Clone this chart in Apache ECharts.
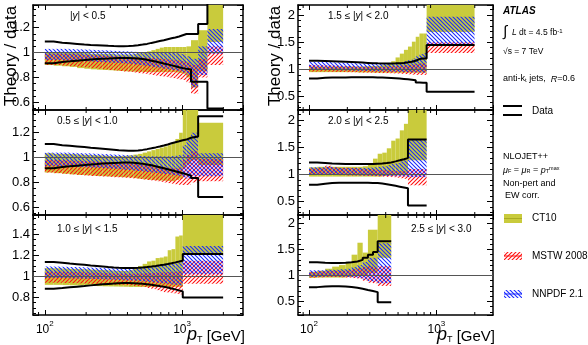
<!DOCTYPE html>
<html>
<head>
<meta charset="utf-8">
<title>Theory / data</title>
<script src="https://cdn.jsdelivr.net/npm/echarts@6/dist/echarts.min.js"></script>
<style>
  html, body { margin: 0; padding: 0; background: #fff; }
  #chartmain { width: 588px; height: 345px; }
</style>
</head>
<body>
<div id="chartmain"></div>
<script>
// pT bin edges [GeV] for each rapidity slice
var p1Edges = [100, 116, 134, 152, 172, 194, 216, 240, 264, 290, 318, 346, 376, 408, 442, 478, 516, 556, 598, 642, 688, 736, 786, 838, 894, 952, 1012, 1076, 1162, 1310, 1530, 1992]
var p2Edges = [100, 116, 134, 152, 172, 194, 216, 240, 264, 290, 318, 346, 376, 408, 442, 478, 516, 556, 598, 642, 688, 736, 786, 838, 894, 952, 1012, 1076, 1162, 1310, 1992]
var p3Edges = [100, 116, 134, 152, 172, 194, 216, 240, 264, 290, 318, 346, 376, 408, 442, 478, 516, 556, 598, 642, 688, 736, 786, 838, 894, 952, 1012, 1992]
var r1Edges = [100, 116, 134, 152, 172, 194, 216, 240, 264, 290, 318, 346, 376, 408, 442, 478, 516, 556, 598, 642, 688, 736, 786, 838, 1992]
var r2Edges = [100, 116, 134, 152, 172, 194, 216, 240, 264, 290, 318, 346, 376, 408, 442, 478, 516, 556, 598, 838]
var r3Edges = [100, 116, 134, 152, 172, 194, 216, 240, 264, 290, 318, 346, 442]

// |y| < 0.5
var p1DataHi = [1.09, 1.08, 1.075, 1.07, 1.065, 1.062, 1.06, 1.058, 1.055, 1.053, 1.052, 1.052, 1.053, 1.055, 1.06, 1.065, 1.07, 1.078, 1.085, 1.093, 1.1, 1.108, 1.115, 1.122, 1.13, 1.14, 1.15, 1.15, 1.15, 1.23, 1.5]
var p1DataLo = [0.915, 0.925, 0.93, 0.935, 0.94, 0.945, 0.948, 0.95, 0.952, 0.955, 0.956, 0.957, 0.957, 0.955, 0.952, 0.948, 0.942, 0.935, 0.928, 0.92, 0.912, 0.905, 0.897, 0.89, 0.882, 0.875, 0.87, 0.865, 0.765, 0.765, 0.55]
var p1Ct10Lo = [0.9, 0.895, 0.89, 0.885, 0.875, 0.87, 0.865, 0.862, 0.86, 0.858, 0.855, 0.852, 0.85, 0.848, 0.846, 0.845, 0.844, 0.843, 0.843, 0.843, 0.843, 0.843, 0.843, 0.843, 0.84, 0.835, 0.83, 0.8, 0.72, 0.85, 1.085]
var p1Ct10Hi = [1.0, 1.0, 1.0, 1.0, 1.0, 0.995, 0.99, 0.99, 0.99, 0.99, 0.985, 0.985, 0.985, 0.985, 0.99, 0.995, 1.0, 1.01, 1.02, 1.03, 1.04, 1.045, 1.045, 1.045, 1.045, 1.045, 1.045, 1.05, 1.1, 1.18, 1.6]
var p1MstwLo = [0.9, 0.9, 0.895, 0.89, 0.885, 0.88, 0.875, 0.87, 0.865, 0.86, 0.856, 0.852, 0.848, 0.845, 0.84, 0.835, 0.83, 0.825, 0.82, 0.815, 0.81, 0.805, 0.8, 0.795, 0.79, 0.785, 0.78, 0.76, 0.67, 0.8, 0.9]
var p1MstwHi = [0.99, 0.99, 0.99, 0.988, 0.985, 0.982, 0.98, 0.978, 0.975, 0.972, 0.97, 0.968, 0.966, 0.964, 0.962, 0.96, 0.958, 0.956, 0.954, 0.952, 0.95, 0.948, 0.945, 0.942, 0.94, 0.935, 0.93, 0.92, 0.9, 0.95, 1.05]
var p1NnpdfLo = [0.94, 0.94, 0.938, 0.935, 0.932, 0.93, 0.928, 0.925, 0.922, 0.92, 0.918, 0.915, 0.912, 0.91, 0.905, 0.9, 0.895, 0.89, 0.885, 0.88, 0.875, 0.87, 0.865, 0.86, 0.855, 0.85, 0.84, 0.82, 0.72, 0.82, 0.99]
var p1NnpdfHi = [1.03, 1.03, 1.03, 1.028, 1.026, 1.024, 1.022, 1.02, 1.018, 1.016, 1.014, 1.012, 1.01, 1.008, 1.006, 1.004, 1.002, 1.0, 1.0, 1.0, 1.0, 1.0, 1.0, 1.0, 0.995, 0.99, 0.985, 0.97, 0.95, 1.05, 1.19]

// 0.5 <= |y| < 1.0
var p2DataHi = [1.11, 1.1, 1.095, 1.09, 1.085, 1.08, 1.076, 1.072, 1.068, 1.064, 1.06, 1.058, 1.056, 1.056, 1.058, 1.062, 1.068, 1.075, 1.082, 1.09, 1.098, 1.106, 1.115, 1.124, 1.132, 1.14, 1.145, 1.16, 1.17, 1.333]
var p2DataLo = [0.915, 0.925, 0.93, 0.935, 0.94, 0.945, 0.948, 0.952, 0.955, 0.957, 0.958, 0.96, 0.96, 0.958, 0.955, 0.95, 0.945, 0.938, 0.93, 0.922, 0.914, 0.906, 0.898, 0.89, 0.882, 0.874, 0.866, 0.855, 0.835, 0.683]
var p2Ct10Lo = [0.88, 0.875, 0.87, 0.865, 0.86, 0.858, 0.855, 0.852, 0.85, 0.848, 0.846, 0.844, 0.842, 0.84, 0.835, 0.83, 0.826, 0.822, 0.82, 0.818, 0.816, 0.814, 0.812, 0.81, 0.82, 0.83, 0.92, 0.95, 0.98, 0.94]
var p2Ct10Hi = [1.035, 1.03, 1.03, 1.028, 1.025, 1.022, 1.02, 1.018, 1.016, 1.014, 1.012, 1.012, 1.014, 1.018, 1.024, 1.03, 1.04, 1.05, 1.06, 1.07, 1.08, 1.09, 1.1, 1.12, 1.15, 1.2, 1.4, 1.45, 1.6, 1.28]
var p2MstwLo = [0.88, 0.875, 0.87, 0.865, 0.86, 0.856, 0.852, 0.85, 0.848, 0.845, 0.842, 0.84, 0.838, 0.835, 0.832, 0.828, 0.824, 0.82, 0.815, 0.81, 0.805, 0.8, 0.795, 0.79, 0.785, 0.78, 0.78, 0.78, 0.8, 0.81]
var p2MstwHi = [0.98, 0.98, 0.978, 0.975, 0.972, 0.97, 0.968, 0.966, 0.964, 0.962, 0.96, 0.958, 0.955, 0.952, 0.95, 0.946, 0.942, 0.938, 0.934, 0.93, 0.926, 0.922, 0.918, 0.914, 0.91, 0.92, 0.98, 1.02, 1.05, 0.99]
var p2NnpdfLo = [0.93, 0.93, 0.928, 0.926, 0.924, 0.922, 0.92, 0.918, 0.915, 0.912, 0.91, 0.906, 0.902, 0.9, 0.896, 0.892, 0.888, 0.884, 0.88, 0.876, 0.872, 0.868, 0.864, 0.86, 0.856, 0.852, 0.84, 0.83, 0.85, 0.85]
var p2NnpdfHi = [1.04, 1.04, 1.04, 1.038, 1.036, 1.034, 1.032, 1.03, 1.028, 1.026, 1.024, 1.022, 1.02, 1.018, 1.016, 1.014, 1.012, 1.01, 1.01, 1.01, 1.01, 1.01, 1.01, 1.012, 1.015, 1.02, 1.1, 1.15, 1.2, 1.035]

// 1.0 <= |y| < 1.5
var p3DataHi = [1.137, 1.13, 1.123, 1.117, 1.111, 1.105, 1.1, 1.095, 1.09, 1.086, 1.083, 1.081, 1.08, 1.08, 1.082, 1.086, 1.09, 1.095, 1.1, 1.106, 1.112, 1.119, 1.126, 1.134, 1.142, 1.15, 1.213]
var p3DataLo = [0.883, 0.89, 0.897, 0.903, 0.909, 0.915, 0.92, 0.925, 0.929, 0.932, 0.935, 0.937, 0.937, 0.936, 0.934, 0.93, 0.925, 0.92, 0.914, 0.908, 0.901, 0.894, 0.886, 0.877, 0.867, 0.856, 0.8]
var p3Ct10Lo = [0.92, 0.92, 0.918, 0.916, 0.914, 0.912, 0.91, 0.908, 0.906, 0.905, 0.904, 0.903, 0.902, 0.9, 0.9, 0.9, 0.9, 0.9, 0.9, 0.9, 0.9, 0.9, 0.9, 0.9, 0.9, 0.9, 1.21]
var p3Ct10Hi = [1.08, 1.078, 1.075, 1.072, 1.07, 1.068, 1.065, 1.062, 1.06, 1.058, 1.055, 1.053, 1.052, 1.06, 1.08, 1.1, 1.12, 1.143, 1.15, 1.175, 1.18, 1.19, 1.25, 1.26, 1.38, 1.39, 1.8]
var p3MstwLo = [0.94, 0.94, 0.938, 0.936, 0.934, 0.932, 0.93, 0.928, 0.926, 0.924, 0.922, 0.92, 0.918, 0.915, 0.91, 0.905, 0.9, 0.89, 0.88, 0.87, 0.86, 0.85, 0.845, 0.84, 0.835, 0.83, 0.93]
var p3MstwHi = [1.045, 1.045, 1.044, 1.042, 1.04, 1.038, 1.036, 1.034, 1.032, 1.03, 1.028, 1.027, 1.026, 1.026, 1.027, 1.028, 1.03, 1.032, 1.034, 1.036, 1.038, 1.04, 1.042, 1.044, 1.046, 1.048, 1.15]
var p3NnpdfLo = [0.985, 0.985, 0.984, 0.982, 0.98, 0.978, 0.976, 0.974, 0.972, 0.97, 0.968, 0.966, 0.964, 0.962, 0.96, 0.956, 0.952, 0.948, 0.944, 0.94, 0.936, 0.932, 0.928, 0.924, 0.92, 0.915, 1.02]
var p3NnpdfHi = [1.095, 1.094, 1.092, 1.09, 1.088, 1.086, 1.084, 1.082, 1.08, 1.078, 1.078, 1.078, 1.078, 1.08, 1.084, 1.088, 1.092, 1.096, 1.1, 1.105, 1.11, 1.115, 1.12, 1.125, 1.13, 1.14, 1.29]

// 1.5 <= |y| < 2.0
var r1DataHi = [1.16, 1.155, 1.15, 1.145, 1.14, 1.135, 1.13, 1.125, 1.12, 1.115, 1.112, 1.11, 1.11, 1.11, 1.112, 1.115, 1.12, 1.13, 1.14, 1.16, 1.19, 1.2, 1.2, 1.447]
var r1DataLo = [0.835, 0.845, 0.85, 0.852, 0.853, 0.854, 0.855, 0.855, 0.855, 0.854, 0.852, 0.85, 0.847, 0.843, 0.838, 0.832, 0.825, 0.818, 0.81, 0.8, 0.76, 0.755, 0.755, 0.59]
var r1Ct10Lo = [0.95, 0.95, 0.95, 0.95, 0.95, 0.95, 0.95, 0.945, 0.945, 0.945, 0.94, 0.94, 0.94, 0.94, 0.94, 0.94, 0.94, 0.94, 0.94, 0.94, 0.94, 0.94, 0.94, 1.69]
var r1Ct10Hi = [1.05, 1.05, 1.05, 1.05, 1.05, 1.05, 1.05, 1.05, 1.055, 1.06, 1.065, 1.07, 1.08, 1.1, 1.15, 1.22, 1.29, 1.36, 1.42, 1.51, 1.6, 1.66, 1.66, 2.5]
var r1MstwLo = [0.96, 0.96, 0.958, 0.955, 0.952, 0.95, 0.948, 0.945, 0.942, 0.94, 0.938, 0.935, 0.932, 0.93, 0.928, 0.925, 0.92, 0.915, 0.91, 0.905, 0.9, 0.9, 0.9, 1.3]
var r1MstwHi = [1.08, 1.078, 1.075, 1.07, 1.066, 1.062, 1.058, 1.055, 1.052, 1.05, 1.05, 1.05, 1.052, 1.055, 1.06, 1.065, 1.07, 1.075, 1.08, 1.09, 1.1, 1.11, 1.11, 1.5]
var r1NnpdfLo = [0.99, 0.99, 0.988, 0.985, 0.982, 0.98, 0.977, 0.974, 0.971, 0.968, 0.966, 0.964, 0.962, 0.96, 0.958, 0.956, 0.954, 0.952, 0.95, 0.948, 0.946, 0.944, 0.942, 1.45]
var r1NnpdfHi = [1.14, 1.138, 1.135, 1.13, 1.125, 1.12, 1.116, 1.112, 1.11, 1.108, 1.106, 1.105, 1.105, 1.106, 1.11, 1.12, 1.13, 1.15, 1.17, 1.2, 1.24, 1.28, 1.3, 1.97]

// 2.0 <= |y| < 2.5
var r2DataHi = [1.22, 1.21, 1.2, 1.195, 1.19, 1.19, 1.19, 1.19, 1.19, 1.19, 1.195, 1.2, 1.21, 1.22, 1.24, 1.26, 1.28, 1.3, 1.64]
var r2DataLo = [0.81, 0.83, 0.84, 0.845, 0.848, 0.848, 0.848, 0.848, 0.846, 0.844, 0.84, 0.832, 0.82, 0.805, 0.79, 0.775, 0.76, 0.745, 0.43]
var r2Ct10Lo = [0.96, 0.96, 0.96, 0.96, 0.96, 0.96, 0.96, 0.96, 0.96, 0.96, 0.96, 0.96, 0.97, 0.98, 0.98, 0.99, 1.0, 1.0, 1.26]
var r2Ct10Hi = [1.13, 1.14, 1.14, 1.14, 1.14, 1.14, 1.14, 1.14, 1.15, 1.2, 1.29, 1.38, 1.4, 1.48, 1.62, 1.66, 1.81, 1.93, 2.5]
var r2MstwLo = [0.99, 0.99, 1.0, 0.99, 0.985, 0.98, 0.98, 0.978, 0.975, 0.972, 0.968, 0.964, 0.96, 0.955, 0.95, 0.94, 0.93, 0.92, 0.8]
var r2MstwHi = [1.11, 1.12, 1.16, 1.13, 1.12, 1.12, 1.12, 1.11, 1.1, 1.1, 1.09, 1.08, 1.08, 1.075, 1.07, 1.065, 1.06, 1.06, 1.1]
var r2NnpdfLo = [0.99, 0.99, 0.99, 0.99, 0.988, 0.986, 0.984, 0.982, 0.98, 0.978, 0.976, 0.974, 0.972, 0.97, 0.968, 0.966, 0.964, 0.962, 0.95]
var r2NnpdfHi = [1.13, 1.13, 1.14, 1.13, 1.12, 1.12, 1.12, 1.12, 1.12, 1.125, 1.13, 1.14, 1.15, 1.17, 1.19, 1.21, 1.24, 1.26, 1.64]

// 2.5 <= |y| < 3.0
var r3DataHi = [1.256, 1.245, 1.24, 1.24, 1.245, 1.255, 1.27, 1.3, 1.34, 1.4, 1.45, 1.66]
var r3DataLo = [0.776, 0.79, 0.795, 0.795, 0.79, 0.78, 0.765, 0.745, 0.72, 0.7, 0.68, 0.487]
var r3Ct10Lo = [0.955, 0.96, 0.96, 0.96, 0.96, 0.97, 0.98, 1.0, 1.0, 1.05, 1.05, 1.34]
var r3Ct10Hi = [1.07, 1.09, 1.13, 1.17, 1.2, 1.24, 1.4, 1.63, 1.44, 1.88, 1.88, 2.5]
var r3MstwLo = [0.96, 0.965, 0.97, 0.97, 0.965, 0.96, 0.95, 0.94, 0.9, 0.86, 0.85, 0.8]
var r3MstwHi = [1.07, 1.08, 1.09, 1.09, 1.09, 1.1, 1.12, 1.14, 1.16, 1.18, 1.15, 1.18]
var r3NnpdfLo = [0.97, 0.975, 0.98, 0.98, 0.975, 0.97, 0.965, 0.95, 0.92, 0.89, 0.88, 0.85]
var r3NnpdfHi = [1.1, 1.1, 1.11, 1.11, 1.12, 1.13, 1.16, 1.2, 1.26, 1.34, 1.34, 1.62]

// axis range and minor ticks of the log pT axis
var xMin = 82
var xMax = 2780
var xMinorTicks = [90, 200, 300, 400, 500, 600, 700, 800, 900, 2000]

var FONT = '"Liberation Sans", Arial, Helvetica, sans-serif'
var CT10_COLOR = '#c9cb3c'
var MSTW_COLOR = '#ff1010'
var NNPDF_COLOR = '#1a2aff'

function hatch(color, dir) {
  var s = 4
  var c = document.createElement('canvas')
  c.width = s
  c.height = s
  var ctx = c.getContext('2d')
  ctx.strokeStyle = color
  ctx.lineWidth = 1.1
  ctx.beginPath()
  if (dir > 0) {
    ctx.moveTo(-1, s + 1)
    ctx.lineTo(s + 1, -1)
    ctx.moveTo(-1, 1)
    ctx.lineTo(1, -1)
    ctx.moveTo(s - 1, s + 1)
    ctx.lineTo(s + 1, s - 1)
  } else {
    ctx.moveTo(-1, -1)
    ctx.lineTo(s + 1, s + 1)
    ctx.moveTo(s - 1, -1)
    ctx.lineTo(s + 1, 1)
    ctx.moveTo(-1, s - 1)
    ctx.lineTo(1, s + 1)
  }
  ctx.stroke()
  return { image: c, repeat: 'repeat' }
}
var mstwFill = hatch(MSTW_COLOR, 1)
var nnpdfFill = hatch(NNPDF_COLOR, -1)

var panels = [
  { edges: p1Edges, dHi: p1DataHi, dLo: p1DataLo, cLo: p1Ct10Lo, cHi: p1Ct10Hi, mLo: p1MstwLo, mHi: p1MstwHi, nLo: p1NnpdfLo, nHi: p1NnpdfHi, label: '|{i|y}| < 0.5' },
  { edges: p2Edges, dHi: p2DataHi, dLo: p2DataLo, cLo: p2Ct10Lo, cHi: p2Ct10Hi, mLo: p2MstwLo, mHi: p2MstwHi, nLo: p2NnpdfLo, nHi: p2NnpdfHi, label: '0.5 \u2264 |{i|y}| < 1.0' },
  { edges: p3Edges, dHi: p3DataHi, dLo: p3DataLo, cLo: p3Ct10Lo, cHi: p3Ct10Hi, mLo: p3MstwLo, mHi: p3MstwHi, nLo: p3NnpdfLo, nHi: p3NnpdfHi, label: '1.0 \u2264 |{i|y}| < 1.5' },
  { edges: r1Edges, dHi: r1DataHi, dLo: r1DataLo, cLo: r1Ct10Lo, cHi: r1Ct10Hi, mLo: r1MstwLo, mHi: r1MstwHi, nLo: r1NnpdfLo, nHi: r1NnpdfHi, label: '1.5 \u2264 |{i|y}| < 2.0' },
  { edges: r2Edges, dHi: r2DataHi, dLo: r2DataLo, cLo: r2Ct10Lo, cHi: r2Ct10Hi, mLo: r2MstwLo, mHi: r2MstwHi, nLo: r2NnpdfLo, nHi: r2NnpdfHi, label: '2.0 \u2264 |{i|y}| < 2.5' },
  { edges: r3Edges, dHi: r3DataHi, dLo: r3DataLo, cLo: r3Ct10Lo, cHi: r3Ct10Hi, mLo: r3MstwLo, mHi: r3MstwHi, nLo: r3NnpdfLo, nHi: r3NnpdfHi, label: '2.5 \u2264 |{i|y}| < 3.0' },
]

// pixel layout of the six pads
var layout = [
  { left: 33, top: 5, width: 210, height: 105, yMin: 0.538, yMax: 1.383, minor: 4, xLabels: false, lx: 70, ly: 16 },
  { left: 33, top: 110, width: 210, height: 105, yMin: 0.538, yMax: 1.383, minor: 4, xLabels: false, lx: 57, ly: 121 },
  { left: 33, top: 215, width: 210, height: 100, yMin: 0.633, yMax: 1.585, minor: 4, xLabels: true, lx: 57, ly: 229 },
  { left: 298, top: 5, width: 195, height: 105, yMin: 0.254, yMax: 2.184, minor: 5, xLabels: false, lx: 328, ly: 16 },
  { left: 298, top: 110, width: 195, height: 105, yMin: 0.254, yMax: 2.184, minor: 5, xLabels: false, lx: 328, ly: 121 },
  { left: 298, top: 215, width: 195, height: 100, yMin: 0.24, yMax: 2.163, minor: 5, xLabels: true, lx: 411, ly: 229 },
]

function tk(size, extra) {
  var o = { fontSize: size, fontFamily: FONT, fontStyle: 'normal', fontWeight: 'normal', fill: '#000', color: '#000' }
  for (var k in extra) o[k] = extra[k]
  return o
}

function bins(edges, lo, hi) {
  return lo.map(function (v, i) {
    return [edges[i], edges[i + 1], v, hi[i]]
  })
}

function steps(edges, vals) {
  var pts = vals.map(function (v, i) {
    return [edges[i], v]
  })
  pts.push([edges[edges.length - 1], vals[vals.length - 1]])
  return pts
}

function bandRender(fill) {
  return function (params, api) {
    var a = api.coord([api.value(0), api.value(3)])
    var b = api.coord([api.value(1), api.value(2)])
    var cs = params.coordSys
    var r = echarts.graphic.clipRectByRect(
      { x: a[0], y: a[1], width: b[0] - a[0], height: b[1] - a[1] },
      { x: cs.x, y: cs.y, width: cs.width, height: cs.height }
    )
    return r && { type: 'rect', shape: r, style: { fill: fill } }
  }
}

function minorTickRender(params, api) {
  var x = api.coord([api.value(0), api.value(1)])[0]
  var cs = params.coordSys
  var st = { stroke: '#000', lineWidth: 1 }
  return {
    type: 'group',
    children: [
      { type: 'line', shape: { x1: x, y1: cs.y + cs.height, x2: x, y2: cs.y + cs.height - 3 }, style: st },
      { type: 'line', shape: { x1: x, y1: cs.y, x2: x, y2: cs.y + 3 }, style: st },
    ],
  }
}

var grids = []
var xAxes = []
var yAxes = []
var series = []
var graphics = []

panels.forEach(function (p, i) {
  var g = layout[i]
  grids.push({ left: g.left, top: g.top, width: g.width, height: g.height })
  var axisLine = { show: true, onZero: false, lineStyle: { color: '#000', width: 1.5 } }
  var xBase = {
    type: 'log',
    gridIndex: i,
    min: xMin,
    max: xMax,
    axisLine: axisLine,
    axisTick: { show: true, inside: true, length: 5, lineStyle: { color: '#000', width: 1 } },
    splitLine: { show: false },
  }
  xAxes.push(Object.assign({}, xBase, {
    position: 'bottom',
    axisLabel: {
      show: g.xLabels,
      margin: 5,
      showMinLabel: false,
      showMaxLabel: false,
      formatter: function (v) {
        return '{b|10}{s|' + Math.round(Math.log(v) / Math.LN10) + '}'
      },
      rich: {
        b: tk(12, { lineHeight: 16, verticalAlign: 'bottom' }),
        s: tk(8, { lineHeight: 8, verticalAlign: 'top' }),
      },
    },
  }))
  xAxes.push(Object.assign({}, xBase, { position: 'top', axisLabel: { show: false } }))
  var yBase = {
    type: 'value',
    gridIndex: i,
    min: g.yMin,
    max: g.yMax,
    splitNumber: 4,
    axisLine: axisLine,
    axisTick: { show: true, inside: true, length: 6, lineStyle: { color: '#000', width: 1 } },
    minorTick: { show: true, splitNumber: g.minor, length: 3, lineStyle: { color: '#000', width: 1 } },
    splitLine: { show: false },
  }
  yAxes.push(Object.assign({}, yBase, {
    position: 'left',
    axisLabel: { margin: 3, fontSize: 13, color: '#000', fontFamily: FONT, showMinLabel: false, showMaxLabel: false },
  }))
  yAxes.push(Object.assign({}, yBase, { position: 'right', axisLabel: { show: false } }))

  var ax = { xAxisIndex: 2 * i, yAxisIndex: 2 * i, silent: true }
  series.push(Object.assign({ type: 'custom', name: 'CT10', z: 1, renderItem: bandRender(CT10_COLOR), encode: { x: [0, 1], y: [2, 3] }, data: bins(p.edges, p.cLo, p.cHi) }, ax))
  series.push(Object.assign({ type: 'custom', name: 'MSTW 2008', z: 2, renderItem: bandRender(mstwFill), encode: { x: [0, 1], y: [2, 3] }, data: bins(p.edges, p.mLo, p.mHi) }, ax))
  series.push(Object.assign({ type: 'custom', name: 'NNPDF 2.1', z: 3, renderItem: bandRender(nnpdfFill), encode: { x: [0, 1], y: [2, 3] }, data: bins(p.edges, p.nLo, p.nHi) }, ax))
  series.push(Object.assign({ type: 'line', name: 'Data', z: 5, step: 'end', symbol: 'none', clip: true, lineStyle: { color: '#000', width: 2 }, data: steps(p.edges, p.dHi) }, ax))
  series.push(Object.assign({
    type: 'line',
    name: 'Data',
    z: 5,
    step: 'end',
    symbol: 'none',
    clip: true,
    lineStyle: { color: '#000', width: 2 },
    data: steps(p.edges, p.dLo),
    markLine: { silent: true, symbol: 'none', label: { show: false }, lineStyle: { color: '#555', width: 1, type: 'solid' }, data: [{ yAxis: 1 }] },
  }, ax))
  series.push(Object.assign({
    type: 'custom',
    z: 6,
    renderItem: minorTickRender,
    data: xMinorTicks.map(function (v) {
      return [v, 1]
    }),
  }, ax))

  graphics.push({
    type: 'text',
    x: g.lx,
    y: g.ly,
    z: 100,
    style: { text: p.label, fontSize: 10, fontFamily: FONT, fill: '#000', verticalAlign: 'middle', rich: { i: tk(10, { fontStyle: 'italic' }) } },
  })
})

// axis titles
;[[11, 243], [275, 493]].forEach(function (c) {
  graphics.push({
    type: 'text', x: c[0], y: 56, rotation: Math.PI / 2, z: 100,
    style: { text: 'Theory / data', fontSize: 17, fontFamily: FONT, fill: '#000', align: 'center', verticalAlign: 'middle' },
  })
  graphics.push({
    type: 'text', x: c[1] + 2, y: 334, z: 100,
    style: {
      text: '{p|p}{t|T}{g| [GeV]}', fontSize: 15, fontFamily: FONT, fill: '#000', align: 'right', verticalAlign: 'middle',
      rich: {
        p: tk(18, { fontStyle: 'italic', lineHeight: 20, verticalAlign: 'bottom' }),
        t: tk(9, { lineHeight: 9, verticalAlign: 'bottom' }),
        g: tk(15, { lineHeight: 20, verticalAlign: 'bottom' }),
      },
    },
  })
})

// legend / annotation column
function note(x, y, text, size, rich, extra) {
  var st = { text: text, fontSize: size, fontFamily: FONT, fill: '#000', verticalAlign: 'middle', rich: rich || {} }
  for (var k in extra) st[k] = extra[k]
  graphics.push({ type: 'text', x: x, y: y, z: 100, style: st })
}
note(503, 11, 'ATLAS', 10, null, { fontWeight: 'bold', fontStyle: 'italic' })
note(503, 32, '\u222B', 15)
note(512, 33, '{i|L} dt = 4.5 fb{s|-1}', 8.5, { i: tk(8.5, { fontStyle: 'italic' }), s: tk(6, { verticalAlign: 'top', lineHeight: 6 }) })
note(503, 52, '\u221As = 7 TeV', 8.5)
note(503, 79, 'anti-k{s|t} jets,  {i|R}=0.6', 9, { s: tk(6, { verticalAlign: 'bottom', lineHeight: 6 }), i: tk(9, { fontStyle: 'italic' }) })
graphics.push({ type: 'line', z: 100, shape: { x1: 503, y1: 106, x2: 522, y2: 106 }, style: { stroke: '#000', lineWidth: 2 } })
graphics.push({ type: 'line', z: 100, shape: { x1: 503, y1: 115, x2: 522, y2: 115 }, style: { stroke: '#000', lineWidth: 2 } })
note(532, 111, 'Data', 10)
note(503, 157, 'NLOJET++', 9)
note(503, 170, '{i|\u03BC}{s|F} = {i|\u03BC}{s|R} = {i|p}{s|T}{u|max}', 9, {
  i: tk(9, { fontStyle: 'italic' }),
  s: tk(5.5, { verticalAlign: 'bottom', lineHeight: 6 }),
  u: tk(5.5, { verticalAlign: 'top', lineHeight: 6 }),
})
note(503, 184, 'Non-pert and', 9)
note(505, 196, 'EW corr.', 9)
graphics.push({ type: 'rect', z: 100, shape: { x: 504, y: 214, width: 18, height: 9 }, style: { fill: CT10_COLOR } })
graphics.push({ type: 'line', z: 100, shape: { x1: 504, y1: 218.5, x2: 522, y2: 218.5 }, style: { stroke: '#a9ab22', lineWidth: 1 } })
note(532, 218, 'CT10', 10)
graphics.push({ type: 'rect', z: 100, shape: { x: 504, y: 252, width: 18, height: 8 }, style: { fill: mstwFill } })
graphics.push({ type: 'line', z: 100, shape: { x1: 504, y1: 256, x2: 522, y2: 256 }, style: { stroke: MSTW_COLOR, lineWidth: 1 } })
note(532, 256, 'MSTW 2008', 10)
graphics.push({ type: 'rect', z: 100, shape: { x: 504, y: 290, width: 18, height: 8 }, style: { fill: nnpdfFill } })
graphics.push({ type: 'line', z: 100, shape: { x1: 504, y1: 294, x2: 522, y2: 294 }, style: { stroke: NNPDF_COLOR, lineWidth: 1 } })
note(532, 294, 'NNPDF 2.1', 10)

var option = {
  backgroundColor: '#fff',
  animation: false,
  grid: grids,
  xAxis: xAxes,
  yAxis: yAxes,
  series: series,
  graphic: graphics,
}

var myChart = echarts.init(document.getElementById('chartmain'))
myChart.setOption(option)
</script>
</body>
</html>
